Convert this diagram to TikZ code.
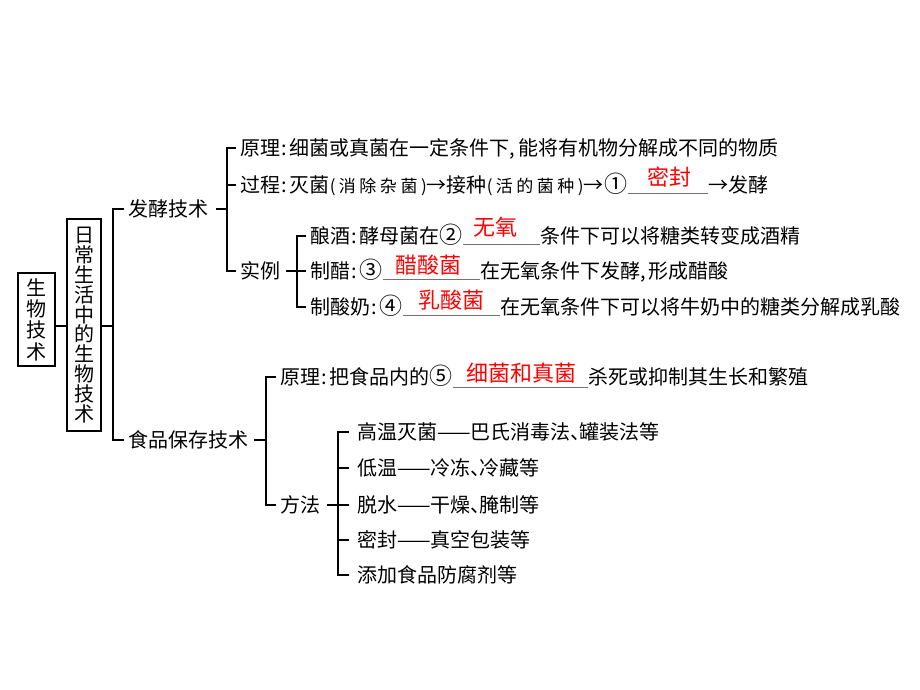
\documentclass[tikz,border=0pt]{standalone}
\usepackage{fontspec}
\setmainfont{Noto Sans CJK SC}
\newcommand{\dun}{\hbox to 9pt{、\hss}}
\newcommand{\mh}{\kern1.5pt:\kern2.5pt}
\newcommand{\dou}{,\kern3pt}
\newcommand{\xiao}[1]{{\fontsize{17}{17}\selectfont #1}}
\newcommand{\quan}[1]{{\fontsize{23}{20}\selectfont #1}}

\tikzset{
  conn/.style={line width=1.5pt},
  blank/.style={line width=0.9pt, black!55},
  txt/.style={anchor=west, inner xsep=4pt, inner ysep=0pt, font=\fontsize{20}{20}\selectfont, text height=17.6pt, text depth=2.4pt},
  ans/.style={text=red, inner sep=0pt, font=\fontsize{22}{22}\selectfont},
  vbox/.style={draw, line width=1.5pt, inner sep=0pt, align=center}
}

\begin{document}
\begin{tikzpicture}[x=1pt,y=-1pt]
\useasboundingbox (0,0) rectangle (920,690);
\node[vbox, minimum width=37pt, minimum height=93pt, font=\fontsize{20}{21.3}\selectfont] (swjs) at (36.5,319.5) {生\\物\\技\\术}; % root
\node[vbox, minimum width=34pt, minimum height=212pt, font=\fontsize{20}{19.8}\selectfont] (rcsh) at (84,325) {日\\常\\生\\活\\中\\的\\生\\物\\技\\术}; % level 1
\coordinate (r0) at (113,326);
\draw[conn] (swjs.east |- r0) -- (rcsh.west |- r0);
\draw[conn] (rcsh.east |- r0) -- (r0);
\node[txt] (fjjs) at (124,209) {发酵技术};
\node[txt] (spbc) at (124,440) {食品保存技术};
\draw[conn] (fjjs.west) -| (r0);
\draw[conn] (spbc.west) -| (r0);
% fermentation
\coordinate (b1) at (227,209);
\draw[conn] ([xshift=4pt]fjjs.east) -- (b1);
\node[txt] (yl1) at (236,148) {原理\mh 细菌或真菌在一定条件下\dou 能将有机物分解成不同的物质};
\node[txt] (gc) at (236,185) {过程\mh 灭菌\xiao{(\kern3.5pt 消\kern3.5pt 除\kern3.5pt 杂\kern3.5pt 菌\kern3.5pt )}→接种\xiao{(\kern3.5pt 活\kern3.5pt 的\kern3.5pt 菌\kern3.5pt 种\kern3.5pt )}→\kern1pt\quan{①}};
\node[txt] (gc2) at (704,185) {→发酵};
\node[ans] (a1) at (669,177) {密封};
\draw[blank] ([shift={(-4,8)}]gc.east) -- ([shift={(4,8)}]gc2.west);
\node[txt] (sl) at (236,271) {实例};
\draw[conn] (yl1.west) -| (b1);
\draw[conn] (gc.west) -| (b1);
\draw[conn] (sl.west) -| (b1);
\coordinate (b2) at (297,271);
\draw[conn] ([xshift=2pt]sl.east) -- (b2);
\node[txt] (nj) at (306,236) {酿酒\mh 酵母菌在\quan{②}};
\node[txt] (nj2) at (536,236) {条件下可以将糖类转变成酒精};
\node[ans] (a2) at (495,227) {无氧};
\draw[blank] ([shift={(-4,8)}]nj.east) -- ([shift={(4,8)}]nj2.west);
\node[txt] (zc) at (306,271) {制醋\mh\quan{③}};
\node[txt] (zc2) at (476,271) {在无氧条件下发酵\dou 形成醋酸};
\node[ans] (a3) at (428,265) {醋酸菌};
\draw[blank] ([shift={(-4,8)}]zc.east) -- ([shift={(4,8)}]zc2.west);
\node[txt] (zsn) at (306,307) {制酸奶\mh\quan{④}};
\node[txt] (zsn2) at (496,307) {在无氧条件下可以将牛奶中的糖类分解成乳酸};
\node[ans] (a4) at (451,300) {乳酸菌};
\draw[blank] ([shift={(-4,8)}]zsn.east) -- ([shift={(4,8)}]zsn2.west);
\draw[conn] (nj.west) -| (b2);
\draw[conn] (zc.west) -| (b2);
\draw[conn] (zsn.west) -| (b2);
% food preservation
\coordinate (b3) at (266,440);
\draw[conn] ([xshift=2pt]spbc.east) -- (b3);
\node[txt] (yl2) at (276,377) {原理\mh 把食品内的\quan{⑤}};
\node[txt] (yl22) at (584,377) {杀死或抑制其生长和繁殖};
\node[ans] (a5) at (521,373) {细菌和真菌};
\draw[blank] ([shift={(-4,10)}]yl2.east) -- ([shift={(4,10)}]yl22.west);
\node[txt] (ff) at (276,505) {方法};
\draw[conn] (yl2.west) -| (b3);
\draw[conn] (ff.west) -| (b3);
\coordinate (b4) at (338,505);
\draw[conn] ([xshift=3pt]ff.east) -- (b4);
\node[txt, inner xsep=8pt] (gw) at (349,432) {高温灭菌——巴氏消毒法\dun 罐装法等};
\node[txt, inner xsep=8pt] (dw) at (349,468) {低温——冷冻\dun 冷藏等};
\node[txt, inner xsep=8pt] (ts) at (349,505) {脱水——干燥\dun 腌制等};
\node[txt, inner xsep=8pt] (mf) at (349,540) {密封——真空包装等};
\node[txt, inner xsep=8pt] (tj) at (349,575) {添加食品防腐剂等};
\foreach \n in {gw,dw,ts,mf,tj}
  \draw[conn] (\n.west) -| (b4);
\end{tikzpicture}
\end{document}
